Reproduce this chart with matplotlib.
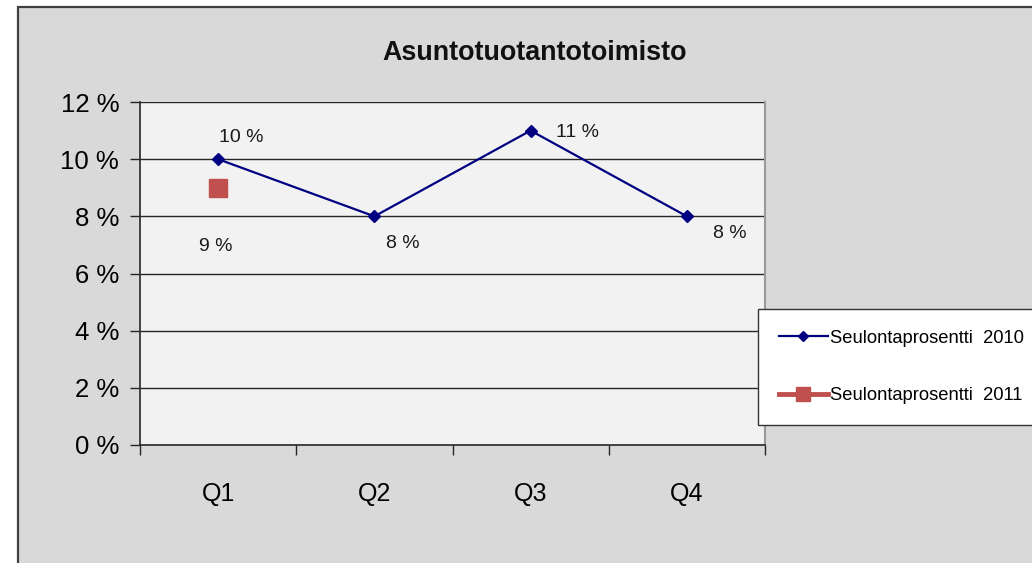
import numpy as np
import matplotlib
matplotlib.use("Agg")
import matplotlib.pyplot as plt
from matplotlib.patches import Rectangle

plt.rcParams['font.family'] = ['Liberation Sans', 'DejaVu Sans']

categories = ["Q1", "Q2", "Q3", "Q4"]
values_2010 = [10, 8, 11, 8]
values_2011 = [9, np.nan, np.nan, np.nan]
labels_2010 = ["10 %", "8 %", "11 %", "8 %"]
labels_2011 = ["9 %", "", "", ""]
yticks = [0, 2, 4, 6, 8, 10, 12]
ytick_labels = ["0 %", "2 %", "4 %", "6 %", "8 %", "10 %", "12 %"]
title = "Asuntotuotantotoimisto"
series_names = ["Seulontaprosentti  2010", "Seulontaprosentti  2011"]

W, H = 1032, 563
fig = plt.figure(figsize=(W / 100, H / 100), dpi=100)
fig.patch.set_facecolor("white")

# outer chart area (gray), extends beyond right/bottom edges
bg = Rectangle((18 / W, -0.05), 1.1, (H - 7) / H + 0.05, transform=fig.transFigure,
               facecolor="#d9d9d9", edgecolor="#404040", linewidth=1.6, zorder=0)
fig.patches.append(bg)

ax = fig.add_axes([140 / W, (H - 445) / H, 625 / W, 343 / H])
ax.set_zorder(2)
ax.set_facecolor("#f2f2f2")
x = np.arange(len(categories))
ax.set_xlim(-0.5, len(categories) - 0.5)
ax.set_ylim(0, 12)

for yv in yticks[1:]:
    ax.axhline(yv, color="#262626", linewidth=1.0, zorder=1)

l1, = ax.plot(x, values_2010, color="#000080", linewidth=1.6, marker="D",
              markersize=6.5, zorder=3, label=series_names[0])
l2, = ax.plot(x, values_2011, color="#c0504d", linewidth=3.5, marker="s",
              markersize=13, zorder=3, label=series_names[1])

# data labels
off_2010 = [(23, 22), (28, -27), (47, -2), (43, -17)]
for xi, v, lab, (dx, dy) in zip(x, values_2010, labels_2010, off_2010):
    ax.annotate(lab, (xi, v), xytext=(dx, dy), textcoords="offset pixels",
                ha="center", va="center", fontsize=14, color="#1a1a1a")
for xi, v, lab in zip(x, values_2011, labels_2011):
    if lab and not np.isnan(v):
        ax.annotate(lab, (xi, v), xytext=(-2, -59), textcoords="offset pixels",
                    ha="center", va="center", fontsize=14, color="#1a1a1a")

ax.set_yticks(yticks)
ax.set_yticklabels(ytick_labels, fontsize=18.5)
ax.set_xticks(x)
ax.set_xticklabels(categories, fontsize=18)
ax.set_xticks(np.arange(-0.5, len(categories), 1.0), minor=True)
ax.tick_params(axis="x", which="major", length=0, pad=27)
ax.tick_params(axis="x", which="minor", length=7, width=1, color="#262626", direction="out")
ax.tick_params(axis="y", length=7, width=1, color="#262626", pad=8)

for s in ["left", "bottom"]:
    ax.spines[s].set_color("#262626")
    ax.spines[s].set_linewidth(1.2)
ax.spines["top"].set_visible(False)
ax.spines["right"].set_color("#9a9a9a")
ax.spines["right"].set_linewidth(1.5)

fig.text(535 / W, 1 - 53 / H, title, ha="center", va="center",
         fontsize=19.4, fontweight="bold", color="#111111")

leg = fig.legend(handles=[l1, l2], labels=series_names, loc="lower left",
                 bbox_to_anchor=(758 / W, (H - 425) / H), borderaxespad=0,
                 fontsize=13.2, handlelength=2.65, handletextpad=0.1,
                 labelspacing=2.2, borderpad=1.15, frameon=True, fancybox=False,
                 markerscale=0.8, framealpha=1.0)
leg.set_zorder(5)
leg.get_frame().set_edgecolor("#333333")
leg.get_frame().set_facecolor("white")
leg.get_frame().set_linewidth(1.0)

fig.savefig("out.png", dpi=100, facecolor=fig.get_facecolor())
